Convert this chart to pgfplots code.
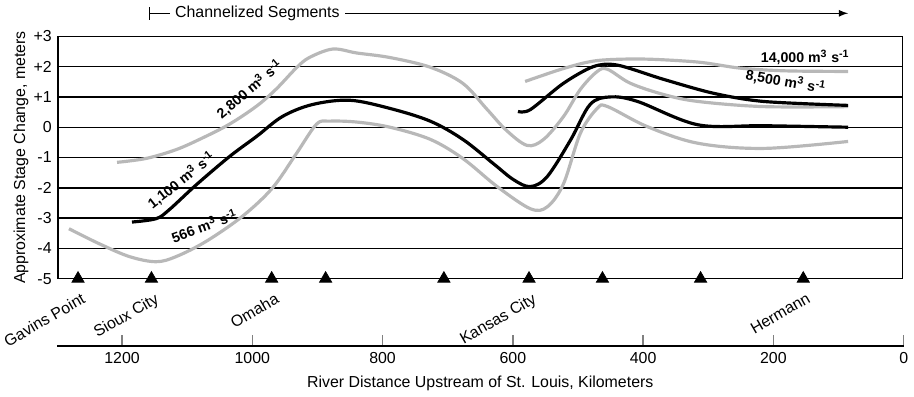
\documentclass[border=0pt]{standalone}
\usepackage{pgfplots}
\pgfplotsset{compat=1.18}
\usepackage{fontspec}
\setmainfont{Liberation Sans}
\definecolor{lg}{RGB}{184,184,184}
\newcommand{\unit}{m\textsuperscript{3} s\textsuperscript{-1}}
\begin{document}
\begin{tikzpicture}[font=\fontsize{9}{11}\selectfont]
\begin{axis}[name=main, at={(0,0)}, anchor=south west,
  scale only axis, width=16.8cm, height=4.82cm,
  xmin=0, xmax=1300, x dir=reverse, ymin=-5, ymax=3,
  xtick=\empty, ytick={-5,-4,-3,-2,-1,0,1,2,3},
  yticklabels={-5,-4,-3,-2,-1,0,+1,+2,+3},
  ymajorgrids, grid style={black, line width=0.8pt},
  major tick length=0pt, axis line style={line width=0.8pt},
  ylabel={Approximate Stage Change, meters},
  ylabel style={yshift=-4pt},
  clip=false]
% 2,800
\addplot[lg, line width=1.8pt, smooth, tension=0.55] coordinates {
(1209,-1.16)(1164,-1.03)(1118,-0.74)(1078,-0.36)(1036,0.1)(994,0.7)(964,1.26)(933,1.96)(913,2.3)(877,2.58)(840,2.45)(789,2.3)(727,1.98)(677,1.45)(640,0.6)(610,-0.1)(578,-0.6)(553,-0.41)(522,0.35)(496,1.25)(470,1.84)(454,1.91)(419,1.45)(368,1.08)(315,0.85)(214,0.68)(84,0.68)};
% 566
\addplot[lg, line width=1.8pt, smooth, tension=0.55] coordinates {
(1283,-3.35)(1237,-3.84)(1190,-4.27)(1149,-4.44)(1118,-4.27)(1072,-3.77)(1016,-2.94)(970,-2.01)(933,-0.87)(902,0.1)(882,0.2)(840,0.17)(789,0.0)(727,-0.4)(677,-1.03)(624,-1.96)(573,-2.69)(547,-2.63)(522,-1.87)(496,-0.2)(470,0.62)(454,0.68)(393,0.02)(315,-0.53)(214,-0.7)(84,-0.47)};
% 14,000
\addplot[lg, line width=1.8pt, smooth, tension=0.5] coordinates {
(581,1.51)(520,1.95)(470,2.2)(400,2.25)(315,2.15)(250,1.95)(180,1.86)(84,1.84)};
% 1,100
\addplot[black, line width=1.8pt, smooth, tension=0.55] coordinates {
(1186,-3.13)(1149,-3.02)(1129,-2.73)(1087,-1.9)(1036,-0.97)(994,-0.3)(954,0.36)(908,0.75)(851,0.89)(789,0.62)(727,0.2)(677,-0.4)(630,-1.2)(599,-1.73)(573,-1.96)(547,-1.63)(511,-0.42)(481,0.75)(450,1.0)(408,0.85)(315,0.08)(214,0.05)(84,0.0)};
% 8,500
\addplot[black, line width=1.8pt, smooth, tension=0.5] coordinates {
(592,0.52)(573,0.58)(522,1.45)(476,2.0)(439,2.05)(368,1.58)(291,1.12)(214,0.85)(84,0.72)};
% gauges
\addplot[only marks, mark=triangle*, mark size=4pt, black] coordinates {
(1269,-5)(1156,-5)(971,-5)(888,-5)(706,-5)(575,-5)(462,-5)(311,-5)(153,-5)};
\begin{scope}[font=\fontsize{8}{10}\selectfont\bfseries]
\node[rotate=40] at (axis cs:1005,1.25) {2,800 \unit};
\node[rotate=38] at (axis cs:1110,-1.75) {1,100 \unit};
\node[rotate=20] at (axis cs:1075,-3.25) {566 \unit};
\node[rotate=-10] at (axis cs:180,1.5) {8,500 \unit};
\node at (axis cs:150,2.3) {14,000 \unit};
\end{scope}
\draw[line width=0.8pt, |-latex] (axis cs:1160,3.76) -- (axis cs:84,3.76);
\node[fill=white, inner xsep=3pt] at (axis cs:993,3.76) {Channelized Segments};
\node[rotate=30, anchor=north east, inner sep=1pt] at (axis cs:1264,-5.35) {Gavins Point};
\node[rotate=30, anchor=north east, inner sep=1pt] at (axis cs:1151,-5.35) {Sioux City};
\node[rotate=30, anchor=north east, inner sep=1pt] at (axis cs:966,-5.35) {Omaha};
\node[rotate=30, anchor=north east, inner sep=1pt] at (axis cs:570,-5.35) {Kansas City};
\node[rotate=30, anchor=north east, inner sep=1pt] at (axis cs:148,-5.35) {Hermann};
\end{axis}
\begin{axis}[at={(-0.02cm,-1.34cm)}, anchor=south west,
  scale only axis, width=16.84cm, height=1cm,
  xmin=0, xmax=1300, x dir=reverse, ymin=0, ymax=1,
  axis x line*=bottom, axis y line=none,
  xtick={0,200,...,1200}, xtick align=inside, major tick length=6pt,
  axis line style={line width=0.8pt}, tick style={line width=0.8pt},
  /pgf/number format/assume math mode=true,
  /pgf/number format/1000 sep={},
  xlabel={River Distance Upstream of St. Louis, Kilometers}]
\end{axis}
\end{tikzpicture}
\end{document}
